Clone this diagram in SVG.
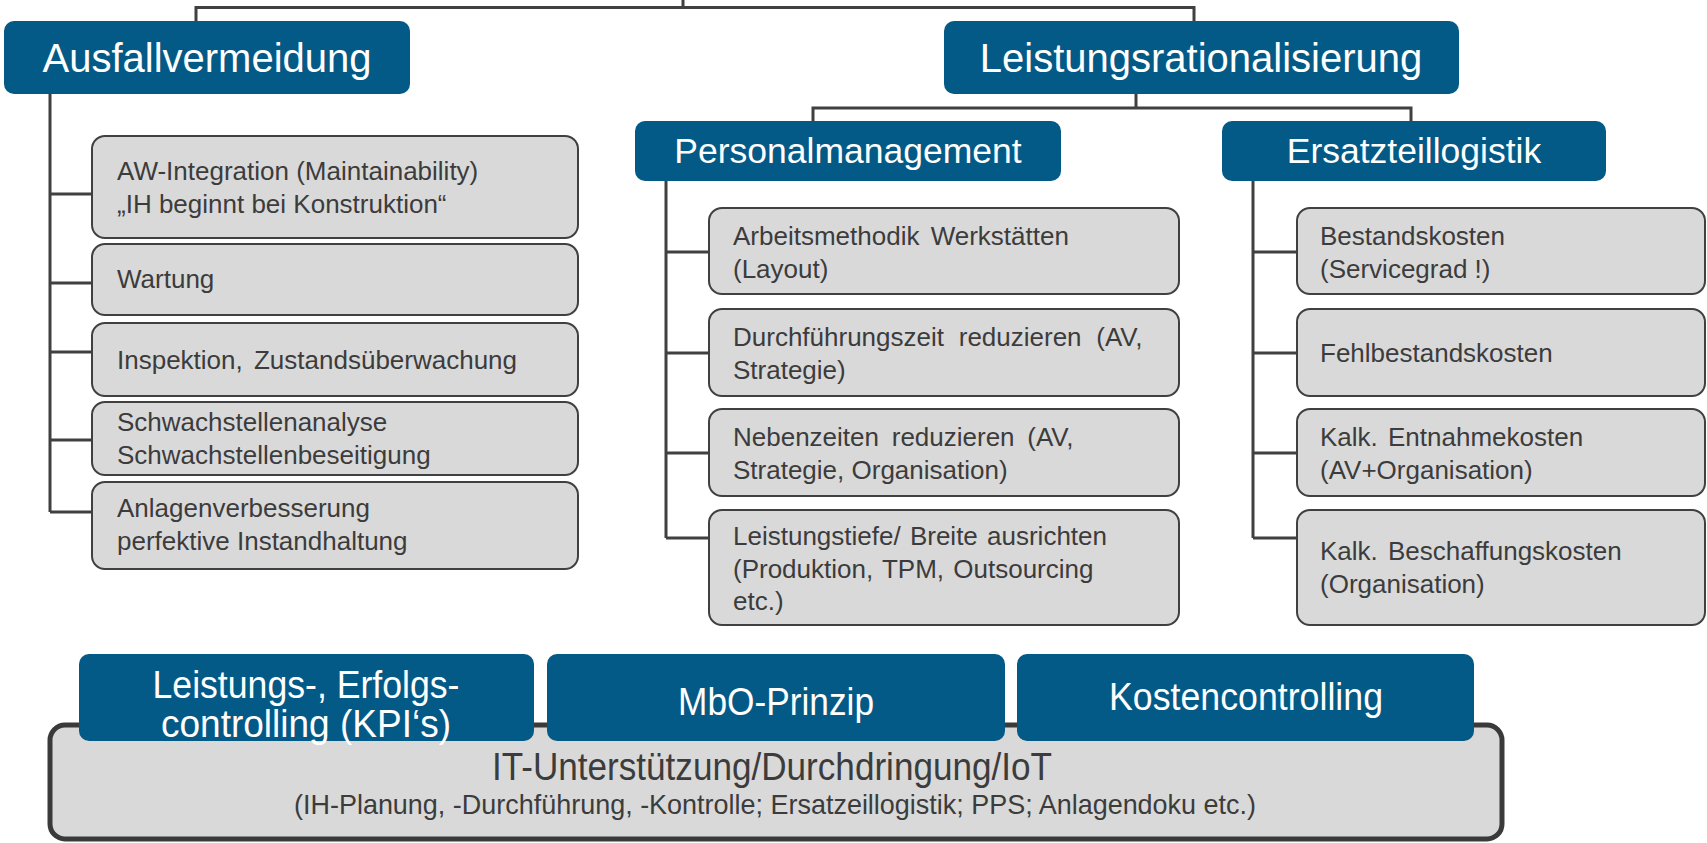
<svg xmlns="http://www.w3.org/2000/svg" width="1707" height="843" viewBox="0 0 1707 843">
  <style>
    .hd{fill:#045a86}
    .ht{font-family:"Liberation Sans",Arial,sans-serif;fill:#ffffff;text-anchor:middle}
    .bx{fill:#d9d9d9;stroke:#404040;stroke-width:2}
    .bt{font-family:"Liberation Sans",Arial,sans-serif;font-size:26px;fill:#3c3c3c}
    .cn{fill:none;stroke:#404040;stroke-width:3}
  </style>
  <rect width="1707" height="843" fill="#ffffff"/>

  <!-- connectors -->
  <g id="connectors" class="cn">
    <path d="M683,0 V7.5 M196,21 V7.5 H1194 V21"/>
    <path d="M50,94 V512 M50,194 H92 M50,283 H92 M50,352 H92 M50,440 H92 M50,512 H92"/>
    <path d="M1136,94 V108 M813,121 V108 H1411 V121"/>
    <path d="M666,181 V538 M666,252 H709 M666,353 H709 M666,453 H709 M666,538 H709"/>
    <path d="M1253,181 V538 M1253,252 H1297 M1253,353 H1297 M1253,453 H1297 M1253,538 H1297"/>
  </g>

  <!-- top level -->
  <g id="ausfallvermeidung">
    <rect class="hd" x="4" y="21" width="406" height="73" rx="10"/>
    <text class="ht" x="207" y="72" font-size="40">Ausfallvermeidung</text>
  </g>
  <g id="leistungsrationalisierung">
    <rect class="hd" x="944" y="21" width="515" height="73" rx="10"/>
    <text class="ht" x="1201" y="72" font-size="40">Leistungsrationalisierung</text>
  </g>
  <g id="personalmanagement">
    <rect class="hd" x="635" y="121" width="426" height="60" rx="10"/>
    <text class="ht" x="848" y="163" font-size="35.5">Personalmanagement</text>
  </g>
  <g id="ersatzteillogistik">
    <rect class="hd" x="1222" y="121" width="384" height="60" rx="10"/>
    <text class="ht" x="1414" y="163" font-size="35.5">Ersatzteillogistik</text>
  </g>

  <!-- Ausfallvermeidung items -->
  <g id="aw-integration">
    <rect class="bx" x="92" y="136" width="486" height="102" rx="13"/>
    <text class="bt" x="117" y="180">AW-Integration (Maintainability)</text>
    <text class="bt" x="117" y="213">„IH beginnt bei Konstruktion“</text>
  </g>
  <g id="wartung">
    <rect class="bx" x="92" y="244" width="486" height="71" rx="13"/>
    <text class="bt" x="117" y="288">Wartung</text>
  </g>
  <g id="inspektion">
    <rect class="bx" x="92" y="323" width="486" height="73" rx="13"/>
    <text class="bt" x="117" y="369" word-spacing="4">Inspektion, Zustandsüberwachung</text>
  </g>
  <g id="schwachstellen">
    <rect class="bx" x="92" y="402" width="486" height="73" rx="13"/>
    <text class="bt" x="117" y="431">Schwachstellenanalyse</text>
    <text class="bt" x="117" y="464">Schwachstellenbeseitigung</text>
  </g>
  <g id="anlagenverbesserung">
    <rect class="bx" x="92" y="482" width="486" height="87" rx="13"/>
    <text class="bt" x="117" y="517">Anlagenverbesserung</text>
    <text class="bt" x="117" y="550">perfektive Instandhaltung</text>
  </g>

  <!-- Personalmanagement items -->
  <g id="arbeitsmethodik">
    <rect class="bx" x="709" y="208" width="470" height="86" rx="13"/>
    <text class="bt" x="733" y="245" word-spacing="4">Arbeitsmethodik Werkstätten</text>
    <text class="bt" x="733" y="278">(Layout)</text>
  </g>
  <g id="durchfuehrungszeit">
    <rect class="bx" x="709" y="309" width="470" height="87" rx="13"/>
    <text class="bt" x="733" y="346" word-spacing="7.5">Durchführungszeit reduzieren (AV,</text>
    <text class="bt" x="733" y="379">Strategie)</text>
  </g>
  <g id="nebenzeiten">
    <rect class="bx" x="709" y="409" width="470" height="87" rx="13"/>
    <text class="bt" x="733" y="446" word-spacing="5.5">Nebenzeiten reduzieren (AV,</text>
    <text class="bt" x="733" y="479">Strategie, Organisation)</text>
  </g>
  <g id="leistungstiefe">
    <rect class="bx" x="709" y="510" width="470" height="115" rx="13"/>
    <text class="bt" x="733" y="545" word-spacing="2">Leistungstiefe/ Breite ausrichten</text>
    <text class="bt" x="733" y="578" word-spacing="2">(Produktion, TPM, Outsourcing</text>
    <text class="bt" x="733" y="610">etc.)</text>
  </g>

  <!-- Ersatzteillogistik items -->
  <g id="bestandskosten">
    <rect class="bx" x="1297" y="208" width="408" height="86" rx="13"/>
    <text class="bt" x="1320" y="245">Bestandskosten</text>
    <text class="bt" x="1320" y="278">(Servicegrad !)</text>
  </g>
  <g id="fehlbestandskosten">
    <rect class="bx" x="1297" y="309" width="408" height="87" rx="13"/>
    <text class="bt" x="1320" y="362">Fehlbestandskosten</text>
  </g>
  <g id="entnahmekosten">
    <rect class="bx" x="1297" y="409" width="408" height="87" rx="13"/>
    <text class="bt" x="1320" y="446" word-spacing="3">Kalk. Entnahmekosten</text>
    <text class="bt" x="1320" y="479">(AV+Organisation)</text>
  </g>
  <g id="beschaffungskosten">
    <rect class="bx" x="1297" y="510" width="408" height="115" rx="13"/>
    <text class="bt" x="1320" y="560" word-spacing="3">Kalk. Beschaffungskosten</text>
    <text class="bt" x="1320" y="593">(Organisation)</text>
  </g>

  <!-- base layer -->
  <g id="it-unterstuetzung">
    <rect x="50" y="725" width="1452" height="114" rx="15" fill="#d9d9d9" stroke="#3a3a3a" stroke-width="5"/>
    <text x="772" y="780" font-family="'Liberation Sans',Arial,sans-serif" font-size="39" fill="#3c3c3c" text-anchor="middle" textLength="560" lengthAdjust="spacingAndGlyphs">IT-Unterstützung/Durchdringung/IoT</text>
    <text x="775" y="814" font-family="'Liberation Sans',Arial,sans-serif" font-size="28" fill="#3c3c3c" text-anchor="middle" textLength="962" lengthAdjust="spacingAndGlyphs">(IH-Planung, -Durchführung, -Kontrolle; Ersatzeillogistik; PPS; Anlagendoku etc.)</text>
  </g>
  <g id="leistungscontrolling">
    <rect class="hd" x="79" y="654" width="455" height="87" rx="10"/>
    <text class="ht" x="306" y="698" font-size="39" textLength="307" lengthAdjust="spacingAndGlyphs">Leistungs-, Erfolgs-</text>
    <text class="ht" x="306" y="737" font-size="39" textLength="290" lengthAdjust="spacingAndGlyphs">controlling (KPI‘s)</text>
  </g>
  <g id="mbo-prinzip">
    <rect class="hd" x="547" y="654" width="458" height="87" rx="10"/>
    <text class="ht" x="776" y="715" font-size="38" textLength="196" lengthAdjust="spacingAndGlyphs">MbO-Prinzip</text>
  </g>
  <g id="kostencontrolling">
    <rect class="hd" x="1017" y="654" width="457" height="87" rx="10"/>
    <text class="ht" x="1246" y="710" font-size="38" textLength="274" lengthAdjust="spacingAndGlyphs">Kostencontrolling</text>
  </g>
</svg>
